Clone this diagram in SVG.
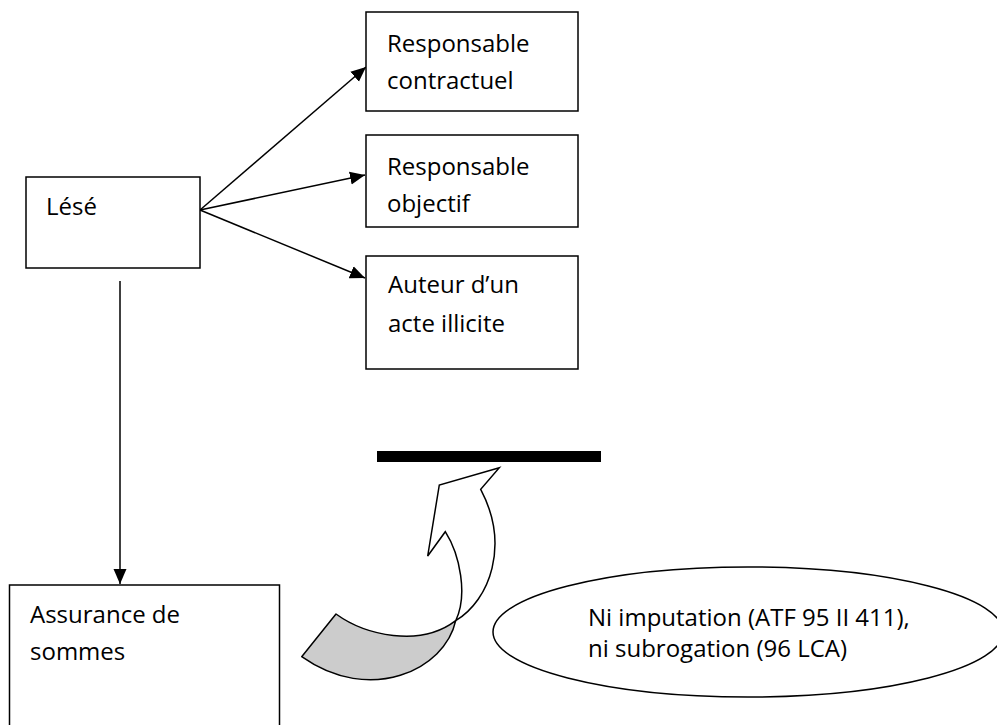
<svg xmlns="http://www.w3.org/2000/svg" width="997" height="725" viewBox="0 0 997 725">
<style>
.box{fill:#fff;stroke:#000;stroke-width:1.5}
.lbl{font-family:"Open Sans","Noto Sans",sans-serif;font-size:24px;fill:#000}
.edge{stroke:#000;stroke-width:1.5;fill:none;marker-end:url(#ah)}
</style>
<defs>
<marker id="ah" markerUnits="userSpaceOnUse" markerWidth="16" markerHeight="14" refX="15" refY="7" orient="auto">
<path d="M0,0.5 L15,7 L0,13.5 z" fill="#000"/>
</marker>
</defs>
<rect width="997" height="725" fill="#fff"/>
<g id="connectors">
<line class="edge" x1="200" y1="210" x2="366" y2="67"/>
<line class="edge" x1="200" y1="210" x2="365" y2="175"/>
<line class="edge" x1="200" y1="210" x2="365" y2="278"/>
<line class="edge" x1="120" y1="281" x2="120" y2="584"/>
</g>
<g id="lese">
<rect class="box" x="26" y="177" width="174" height="91"/>
<text class="lbl" x="46" y="215">Lésé</text>
</g>
<g id="resp-contractuel">
<rect class="box" x="366" y="12" width="212" height="99"/>
<text class="lbl" x="387" y="52">Responsable</text>
<text class="lbl" x="387" y="89">contractuel</text>
</g>
<g id="resp-objectif">
<rect class="box" x="366" y="135" width="212" height="92"/>
<text class="lbl" x="387" y="175">Responsable</text>
<text class="lbl" x="387" y="212">objectif</text>
</g>
<g id="auteur">
<rect class="box" x="366" y="256" width="212" height="113"/>
<text class="lbl" x="388" y="293">Auteur d’un</text>
<text class="lbl" x="388" y="332">acte illicite</text>
</g>
<g id="assurance">
<rect class="box" x="9.5" y="585" width="270" height="150"/>
<text class="lbl" x="30" y="623">Assurance de</text>
<text class="lbl" x="30" y="660">sommes</text>
</g>
<g id="bar">
<rect x="377" y="451" width="224" height="11" fill="#000"/>
</g>
<g id="curved-arrow">
<path d="M336,614 C365,635 420,648 455.7,620.7 C445,670 370,705 301.7,656.7 Z" fill="#cccccc" stroke="#000" stroke-width="1.5" stroke-linejoin="round"/>
<path d="M499.3,467.7 L439.3,485 L427.7,556 L445.3,531.7 C460,555 468,595 455.7,620.7 C490,600 510,545 480.7,489.3 Z" fill="#fff" stroke="#000" stroke-width="1.5" stroke-linejoin="miter"/>
</g>
<g id="note">
<ellipse cx="748" cy="632" rx="255" ry="65" fill="#fff" stroke="#000" stroke-width="1.5"/>
<text class="lbl" x="588" y="626">Ni imputation (ATF 95 II 411),</text>
<text class="lbl" x="588" y="657">ni subrogation (96 LCA)</text>
</g>
</svg>
